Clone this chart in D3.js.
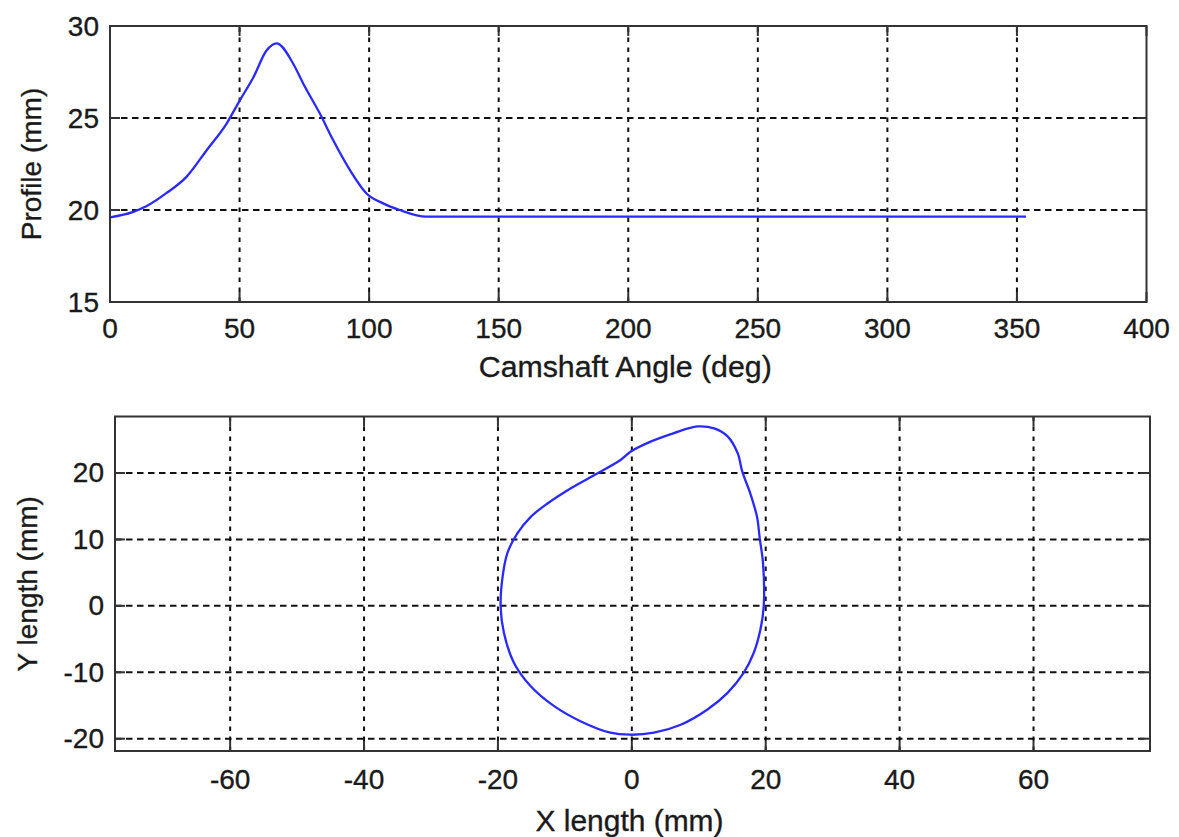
<!DOCTYPE html>
<html>
<head>
<meta charset="utf-8">
<script src="https://cdn.jsdelivr.net/npm/d3@7/dist/d3.min.js"></script>
<style>
  html, body { margin: 0; padding: 0; background: #ffffff; }
  svg { display: block; }
  text { font-family: "Liberation Sans", Arial, sans-serif; fill: #1a1a1a; stroke: #1a1a1a; stroke-width: 0.35; }
</style>
</head>
<body>
<svg id="fig" width="1179" height="837"></svg>
<script>
// Cam lift profile against camshaft angle
const camAngle = [0, 9, 14, 21.6, 29.5, 37.3, 45, 50.1, 55.3, 60.4, 64.3, 70.7, 74.6, 81, 86.1, 92.6, 99, 105.4, 111.8, 122, 200, 300, 353.5];
const camProfile = [19.6, 19.9, 20.2, 20.9, 21.8, 23.25, 24.7, 25.96, 27.2, 28.67, 29.06, 27.95, 26.86, 25.24, 23.8, 22.17, 20.9, 20.36, 20.0, 19.64, 19.64, 19.64, 19.64];

// Cam outline in Cartesian coordinates (mm)
const camX = [9.8, 12.3, 14.3, 15.8, 16.5, 17.7, 18.7, 19.1, 19.6, 19.7, 19.2, 18.2, 16.7, 14.3, 11.3, 7.3, 3.3, -0.2, -3.2, -7.6, -11.6, -15.1, -17.6, -19.1, -19.6, -19.3, -18.6, -17.1, -15.1, -12.6, -9.1, -5.1, -1.7, -0.2, 2.3, 6.3];
const camY = [27.0, 26.7, 25.5, 23.0, 20.2, 16.9, 13.4, 10.2, 6.4, -0.1, -3.6, -7.1, -10.1, -13.1, -15.6, -17.9, -19.1, -19.4, -19.1, -17.4, -15.1, -12.1, -8.6, -4.1, -0.1, 4.4, 7.9, 10.9, 13.4, 15.4, 17.7, 19.95, 21.95, 23.2, 24.5, 26.0];

// Tick values
const angleTicks = [0, 50, 100, 150, 200, 250, 300, 350, 400];
const profileTicks = [15, 20, 25, 30];
const xLenTicks = [-60, -40, -20, 0, 20, 40, 60];
const yLenTicks = [-20, -10, 0, 10, 20];

const svg = d3.select("#fig");
const FONT = 28;
const TICK = 10;

function drawPanel(cfg) {
  const g = svg.append("g");
  const x = cfg.x, y = cfg.y;
  const [x0, x1] = x.range();
  const [y0, y1] = y.range(); // y0 bottom, y1 top

  // dashed grid
  g.selectAll(".vg").data(cfg.xTicks.filter(v => x(v) > x0 + 1 && x(v) < x1 - 1)).join("line")
    .attr("x1", d => x(d)).attr("x2", d => x(d)).attr("y1", y0).attr("y2", y1)
    .attr("stroke", "#111").attr("stroke-width", 2).attr("stroke-dasharray", "4.5,5.5");
  g.selectAll(".hg").data(cfg.yTicks.filter(v => y(v) < y0 - 1 && y(v) > y1 + 1)).join("line")
    .attr("x1", x0).attr("x2", x1).attr("y1", d => y(d)).attr("y2", d => y(d))
    .attr("stroke", "#111").attr("stroke-width", 2).attr("stroke-dasharray", "6.5,4.5");

  // inward tick marks on all four sides
  const tickAttr = sel => sel.attr("stroke", "#333").attr("stroke-width", 2);
  g.selectAll(".tb").data(cfg.xTicks).join("line")
    .attr("x1", d => x(d)).attr("x2", d => x(d)).attr("y1", y0).attr("y2", y0 - TICK).call(tickAttr);
  g.selectAll(".tt").data(cfg.xTicks).join("line")
    .attr("x1", d => x(d)).attr("x2", d => x(d)).attr("y1", y1).attr("y2", y1 + TICK).call(tickAttr);
  g.selectAll(".tl").data(cfg.yTicks).join("line")
    .attr("y1", d => y(d)).attr("y2", d => y(d)).attr("x1", x0).attr("x2", x0 + TICK).call(tickAttr);
  g.selectAll(".tr").data(cfg.yTicks).join("line")
    .attr("y1", d => y(d)).attr("y2", d => y(d)).attr("x1", x1).attr("x2", x1 - TICK).call(tickAttr);

  // data line
  const line = d3.line().curve(cfg.curve).x(d => x(d[0])).y(d => y(d[1]));
  g.append("path").datum(cfg.points)
    .attr("d", line)
    .attr("fill", "none").attr("stroke", "#2a2aff").attr("stroke-width", 2.3)
    .attr("stroke-linejoin", "round");

  // frame
  g.append("rect").attr("x", x0).attr("y", y1).attr("width", x1 - x0).attr("height", y0 - y1)
    .attr("fill", "none").attr("stroke", "#333").attr("stroke-width", 2);

  // tick labels
  g.selectAll(".xl").data(cfg.xTicks).join("text")
    .attr("x", d => x(d)).attr("y", y0 + cfg.xLabelOffset)
    .attr("text-anchor", "middle").attr("dominant-baseline", "central")
    .attr("font-size", FONT).text(d => d);
  g.selectAll(".yl").data(cfg.yTicks).join("text")
    .attr("x", x0 - 11).attr("y", d => y(d))
    .attr("text-anchor", "end").attr("dominant-baseline", "central")
    .attr("font-size", FONT).text(d => d);

  // axis titles
  g.append("text").attr("x", (x0 + x1) / 2 - 3).attr("y", cfg.xTitleY)
    .attr("text-anchor", "middle").attr("font-size", FONT + 1)
    .attr("textLength", cfg.xTitleLen).attr("lengthAdjust", "spacingAndGlyphs")
    .text(cfg.xTitle);
  g.append("text")
    .attr("transform", `translate(${cfg.yTitleX},${(y0 + y1) / 2}) rotate(-90)`)
    .attr("text-anchor", "middle").attr("dominant-baseline", "central")
    .attr("font-size", FONT).text(cfg.yTitle);
}

// Upper panel: profile vs angle
drawPanel({
  x: d3.scaleLinear().domain([0, 400]).range([110, 1146.5]),
  y: d3.scaleLinear().domain([15, 30]).range([302, 26]),
  xTicks: angleTicks,
  yTicks: profileTicks,
  points: camAngle.map((a, i) => [a, camProfile[i]]),
  curve: d3.curveMonotoneX,
  xLabelOffset: 26,
  xTitleY: 377,
  xTitle: "Camshaft Angle (deg)",
  xTitleLen: 293,
  yTitleX: 31,
  yTitle: "Profile (mm)"
});

// Lower panel: cam outline
drawPanel({
  x: d3.scaleLinear().domain([-77.2, 77.4]).range([115, 1150]),
  y: d3.scaleLinear().domain([-21.85, 28.5]).range([751, 416.5]),
  xTicks: xLenTicks,
  yTicks: yLenTicks,
  points: camX.map((v, i) => [v, camY[i]]),
  curve: d3.curveCatmullRomClosed,
  xLabelOffset: 28,
  xTitleY: 831,
  xTitle: "X length (mm)",
  xTitleLen: 188,
  yTitleX: 27,
  yTitle: "Y length (mm)"
});
</script>
</body>
</html>
